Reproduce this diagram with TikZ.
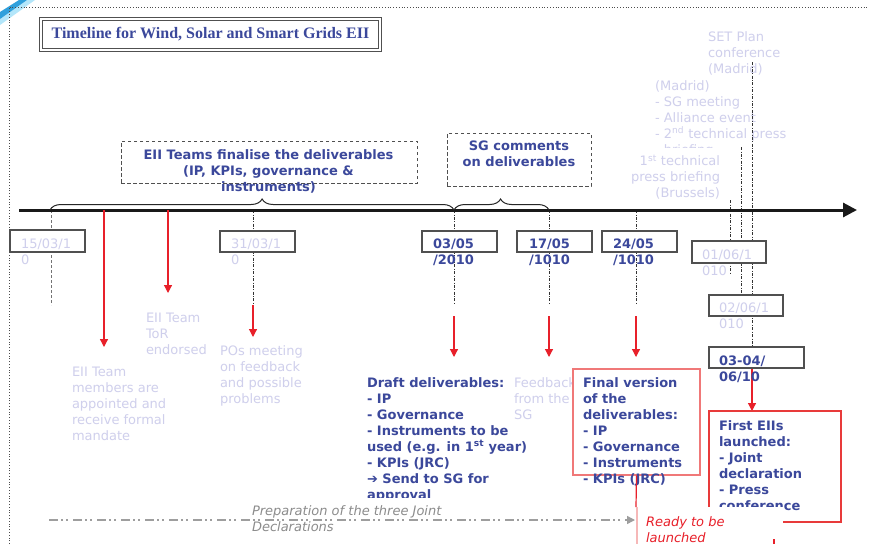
\documentclass[tikz,border=0pt]{standalone}
\usepackage{fontspec}
\setmainfont{DejaVu Sans}
\newfontfamily\titlefont{Liberation Serif}
\newfontfamily\symfont{DejaVu Sans}
\usetikzlibrary{arrows.meta,decorations.pathreplacing}
\definecolor{navy}{HTML}{3B489B}
\definecolor{lav}{HTML}{CFCFEC}
\definecolor{arrred}{HTML}{E8202A}
\definecolor{pinkb}{HTML}{F07878}
\definecolor{palepink}{HTML}{F6B8B8}
\definecolor{redb}{HTML}{E83A3A}
\definecolor{itgray}{HTML}{8C8C8C}
\definecolor{boxgray}{HTML}{505050}
\definecolor{swoosh}{HTML}{2FA0DC}
\tikzset{
  txt/.style={anchor=north west, inner sep=0pt, outer sep=0pt, align=left, yshift=9.8pt, font=\fontsize{13}{16}\selectfont},
  lighttxt/.style={txt, text=lav},
  boldtxt/.style={txt, text=navy, font=\fontsize{13}{16}\selectfont\bfseries},
  datebox/.style={draw=boxgray, line width=1.1pt, fill=white, inner sep=0pt},
  dashbox/.style={draw=boxgray, line width=1pt, dash pattern=on 3.5pt off 2.5pt, inner sep=0pt},
  tickline/.style={draw=black!80, line width=0.8pt, dash pattern=on 3pt off 1.5pt on 0.8pt off 1.5pt},
  redarrow/.style={draw=arrred, line width=1.2pt, -{Triangle[length=8pt,width=8pt]}},
  bracestyle/.style={draw=black!85, line width=1pt, decorate, decoration={brace, amplitude=11pt}},
}
\begin{document}
\begin{tikzpicture}[x=1pt,y=-1pt]
\useasboundingbox (0,0) rectangle (869,544);
\fill[white] (0,0) rectangle (869,544);
% corner swoosh
\fill[cyan!30] (0,19) -- (27,0) -- (35,0) -- (0,25) -- cycle;
\fill[swoosh] (0,12) -- (19,0) -- (27,0) -- (0,19) -- cycle;
% dotted frame
\draw[black!70, dotted, line width=0.8pt] (9,544) -- (9,7) -- (869,7);
% title
\node[draw=boxgray, double=white, double distance=1.8pt, line width=1pt, minimum width=339pt, minimum height=31pt, inner sep=0pt, text=navy, font=\titlefont\bfseries\fontsize{16}{18}\selectfont] (title) at (210.5,34.5) {Timeline for Wind, Solar and Smart Grids EII};

% dashed headline boxes
\node[dashbox, minimum width=296pt, minimum height=42pt] (eiibox) at (269,162) {};
\node[boldtxt, anchor=north, align=center] (eiitxt) at (268.5,159) {EII Teams finalise the deliverables\\(IP, KPIs, governance \&\\instruments)};
\node[dashbox, minimum width=144pt, minimum height=53pt] (sgbox) at (519,159.5) {};
\node[boldtxt, anchor=north, align=center] (sgtxt) at (519,151) {SG comments\\on deliverables};

% upper light texts
\node[lighttxt] (setplan) at (708,41) {SET Plan\\conference\\(Madrid)};
\begin{scope}
\clip (640,60) rectangle (820,147);
\node[lighttxt] (madrid) at (655,90) {(Madrid)\\- SG meeting\\- Alliance event\\- 2\textsuperscript{nd} technical press\\\smash{- briefing}};
\end{scope}
\node[lighttxt, anchor=north east, align=right] (brussels) at (720,165) {1\textsuperscript{st} technical\\press briefing\\(Brussels)};

% vertical tick lines
\coordinate (t51a) at (51,210); \coordinate (t51b) at (51,305);
\draw[draw=black!55, line width=0.8pt, dash pattern=on 3pt off 2pt] (t51a) -- (t51b);
\foreach \xx in {253,454,549,636} {
  \draw[tickline] (\xx,210) -- (\xx,305);
}
\draw[tickline] (730,200) -- (730,273);
\draw[tickline] (741,147) -- (741,296);
\draw[tickline] (752,62) -- (752,348);

% axis
\coordinate (axs) at (19,210); \coordinate (axe) at (857,210);
\draw[line width=3pt, black!90, -{Triangle[length=14pt,width=14pt]}] (axs) -- (axe);
% braces
\coordinate (br1a) at (50,210); \coordinate (br1b) at (454,210);
\draw[bracestyle, decoration={aspect=0.525}] (br1a) -- (br1b);
\coordinate (br2a) at (454,210); \coordinate (br2b) at (549,210);
\draw[bracestyle, decoration={aspect=0.49}] (br2a) -- (br2b);

% red arrows
\draw[redarrow] (104,210) -- (104,347);
\draw[redarrow] (168,210) -- (168,293);
\draw[redarrow] (253,305) -- (253,337);
\draw[redarrow] (454,316) -- (454,357);
\draw[redarrow] (549,316) -- (549,357);
\draw[redarrow] (636,316) -- (636,357);
\draw[redarrow] (752,368) -- (752,411);

% date boxes
\node[datebox, minimum width=75pt, minimum height=22pt] (b15) at (47.5,241) {};
\node[datebox, minimum width=75pt, minimum height=21pt] (b31) at (257.5,241.5) {};
\node[datebox, minimum width=75pt, minimum height=21pt] (b0305) at (459.5,241.5) {};
\node[datebox, minimum width=75pt, minimum height=21pt] (b1705) at (554.5,241.5) {};
\node[datebox, minimum width=75pt, minimum height=21pt] (b2405) at (639.5,241.5) {};
\node[datebox, minimum width=74pt, minimum height=22pt] (b0106) at (729,252) {};
\node[datebox, minimum width=74pt, minimum height=21pt] (b0206) at (746,305.5) {};
\node[datebox, minimum width=95pt, minimum height=21pt] (b0304) at (756.5,357.5) {};

% date texts
\node[lighttxt] (d15) at (21,249) {15/03/1\\0};
\node[lighttxt] (d31) at (231,249) {31/03/1\\0};
\node[boldtxt] (d0305) at (433,249) {03/05\\/2010};
\node[boldtxt] (d1705) at (529,249) {17/05\\/1010};
\node[boldtxt] (d2405) at (613,249) {24/05\\/1010};
\node[lighttxt] (d0106) at (702,260) {01/06/1\\010};
\node[lighttxt] (d0206) at (719,313) {02/06/1\\010};
\node[boldtxt] (d0304) at (719,366) {03-04/\\06/10};

% lower light texts
\node[lighttxt] (tor) at (146,323) {EII Team\\ToR\\endorsed};
\node[lighttxt] (pos) at (220,355) {POs meeting\\on feedback\\and possible\\problems};
\node[lighttxt] (members) at (72,377) {EII Team\\members are\\appointed and\\receive formal\\mandate};
\node[lighttxt] (feedback) at (514,387) {Feedback\\from the\\SG};

% draft deliverables
\begin{scope}
\clip (360,370) rectangle (570,497);
\node[boldtxt] (draft) at (367,387) {Draft deliverables:\\- IP\\- Governance\\- Instruments to be\\used (e.g. in 1\textsuperscript{st} year)\\- KPIs (JRC)\\{\symfont\mdseries ➔} Send to SG for\\approval};
\end{scope}

% final version box
\node[draw=pinkb, line width=1.1pt, fill=white, minimum width=127pt, minimum height=106pt, inner sep=0pt] (finalbox) at (636.5,422) {};
\node[boldtxt] (final) at (583,387) {Final version\\of the\\deliverables:\\- IP\\- Governance\\- Instruments\\- KPIs (JRC)};

% first EIIs box
\node[draw=redb, line width=1.1pt, fill=white, minimum width=132pt, minimum height=111pt, inner sep=0pt] (firstbox) at (775,466.5) {};
\node[boldtxt] (first) at (719,430) {First EIIs\\launched:\\- Joint\\declaration\\- Press\\conference};

% preparation arrow
\coordinate (prepa) at (49,520); \coordinate (prepb) at (635,520);
\draw[draw=black!38, line width=1.4pt, dash pattern=on 9pt off 3pt on 2pt off 3pt on 2pt off 5pt, -{Triangle[length=8pt,width=8pt]}] (prepa) -- (prepb);
\node[txt, text=itgray, font=\fontsize{13}{16}\selectfont\itshape] (prep) at (252,515) {Preparation of the three Joint\\Declarations};

% ready to be launched
\draw[draw=arrred, line width=1.2pt] (finalbox.south) -- (636,507);
\fill[white] (637.5,507) rectangle (783,544);
\draw[draw=palepink, line width=1.1pt] (637,507) -- (637,544);
\draw[draw=arrred, line width=1.1pt] (774,539) -- (774,544);
\node[txt, text=arrred, font=\fontsize{13}{16}\selectfont\itshape] (ready) at (646,526) {Ready to be\\launched};
\end{tikzpicture}
\end{document}
